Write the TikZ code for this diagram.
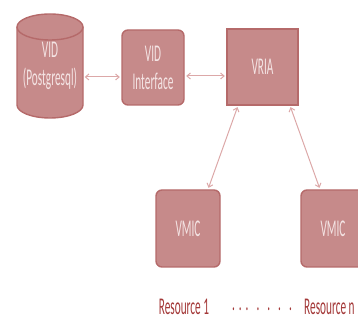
\documentclass[tikz,border=0pt]{standalone}
\usepackage{fontspec}
\newfontfamily\narrowfont[FakeStretch=0.47]{Carlito}
\usetikzlibrary{arrows.meta}
\definecolor{boxfill}{HTML}{C68A8A}
\definecolor{boxline}{HTML}{B56A6A}
\definecolor{boxtext}{HTML}{F4E4E4}
\definecolor{linkcol}{HTML}{DCA8A8}
\definecolor{labelcol}{HTML}{A33838}
\tikzset{
  x=1pt, y=1pt,
  unit/.style={draw=boxline, fill=boxfill, line width=1.4pt, text=boxtext,
    font=\narrowfont\fontsize{24}{28}\selectfont, align=center, inner sep=0pt},
  roundunit/.style={unit, rounded corners=6pt},
  link/.style={draw=linkcol, line width=1pt, {Straight Barb[length=3.5pt,width=6pt]}-{Straight Barb[length=3.5pt,width=6pt]}, shorten <=1.5pt, shorten >=1.5pt},
  reslabel/.style={text=labelcol, font=\narrowfont\fontsize{24}{28}\selectfont, inner sep=0pt}
}
\begin{document}
\begin{tikzpicture}
\useasboundingbox (0,0) rectangle (358,320);

% database cylinder
\fill[boxfill] (17,293) -- (17,215) arc[start angle=180,end angle=360,x radius=33,y radius=13] -- (83,293) -- cycle;
\fill[boxfill] (50,293) ellipse[x radius=33,y radius=13];
\draw[boxline, line width=1.4pt] (17,293) -- (17,215) arc[start angle=180,end angle=360,x radius=33,y radius=13] -- (83,293);
\draw[boxline, line width=1.4pt] (50,293) ellipse[x radius=33,y radius=13];
\node[text=boxtext, font=\narrowfont\fontsize{24}{28}\selectfont, align=center,
  minimum width=66pt, minimum height=104pt, inner sep=0pt] (db) at (50,254) {VID\\(Postgresql)};

% components
\node[roundunit, minimum width=62pt, minimum height=75pt] (iface) at (153,252.5) {VID\\Interface};
\node[unit, minimum width=71pt, minimum height=76pt] (vria) at (262.5,253) {VRIA};
\node[roundunit, minimum width=64pt, minimum height=77pt] (vmicA) at (188,91.5) {VMIC};
\node[roundunit, minimum width=64pt, minimum height=77pt] (vmicB) at (333,91.5) {VMIC};

% resource labels
\node[reslabel] (resA) at (184,13) {Resource 1};
\node[reslabel] (dots) at (262,11) {.\hspace{4pt}.\hspace{4pt}.\hspace{8pt}.\hspace{8pt}.\hspace{8pt}.\hspace{8pt}.};
\node[reslabel, anchor=west] (resB) at (304,13) {Resource n};

% connectors
\draw[link] ([yshift=-9.5pt]iface.west -| db.east) -- ([yshift=-9.5pt]iface.west);
\draw[link] ([yshift=-9pt]vria.west -| iface.east) -- ([yshift=-9pt]vria.west);
\draw[link] ([xshift=-24.5pt]vria.south) -- ([xshift=20pt]vmicA.north);
\draw[link] ([xshift=27.5pt]vria.south) -- ([xshift=-13pt]vmicB.north);
\end{tikzpicture}
\end{document}
